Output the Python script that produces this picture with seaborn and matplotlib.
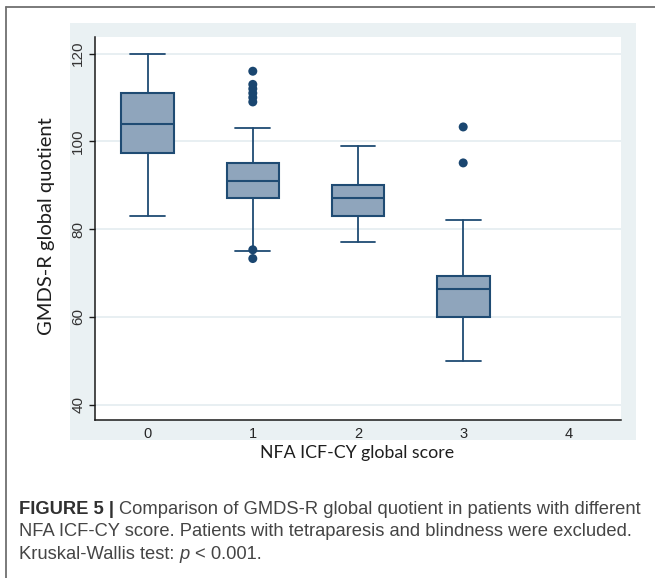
import matplotlib
matplotlib.use("Agg")
import matplotlib.pyplot as plt
import seaborn as sns
import pandas as pd
from matplotlib.patches import Rectangle
from matplotlib.lines import Line2D

# ---------------- data ----------------
categories = ["0", "1", "2", "3", "4"]
box_groups = [0, 1, 2, 3]
whisker_low = [83.0, 75.0, 77.0, 50.0]
q1 = [97.3, 87.2, 83.0, 60.0]
median = [104.0, 91.0, 87.0, 66.4]
q3 = [111.1, 95.1, 90.0, 69.3]
whisker_high = [120.0, 103.0, 99.0, 82.0]
outlier_group = [1, 1, 1, 1, 1, 1, 1, 1, 3, 3]
outlier_value = [116.0, 113.0, 112.0, 111.0, 110.0, 109.0, 75.3, 73.3, 103.3, 95.1]
y_ticks = [40, 60, 80, 100, 120]

x_title = "NFA ICF-CY global score"
y_title = "GMDS-R global quotient"

# ---------------- style ----------------
sns.set_style("white")
plt.rcParams["font.family"] = ["Liberation Sans", "DejaVu Sans"]

W, H = 655, 578
fig = plt.figure(figsize=(W / 100, H / 100), dpi=100)
fig.patch.set_facecolor("white")

def fx(x):
    return x / W

def fy(y):
    return 1 - y / H

# graph region (light bluish)
fig.patches.append(Rectangle((fx(70), fy(440)), fx(636) - fx(70), fy(23) - fy(440),
                             transform=fig.transFigure, facecolor="#EAF1F3",
                             edgecolor="none", zorder=0))
# outer frame (top and left)
fig.lines.append(Line2D([fx(6), fx(6)], [fy(7), -0.01], transform=fig.transFigure,
                        color="#707070", lw=1.3))
fig.lines.append(Line2D([fx(6), 1.01], [fy(7), fy(7)], transform=fig.transFigure,
                        color="#707070", lw=1.3))

ax = fig.add_axes([fx(95), fy(420), fx(621) - fx(95), fy(37) - fy(420)])
ax.set_facecolor("white")
ax.set_zorder(1)

line_c = "#1F4B73"
fill_c = "#8FA5BC"

stats = [dict(med=m, q1=a, q3=b, whislo=lo, whishi=hi, fliers=[], label=categories[g])
         for g, lo, a, m, b, hi in zip(box_groups, whisker_low, q1, median, q3, whisker_high)]
ax.bxp(stats, positions=box_groups, widths=0.5, capwidths=0.33, patch_artist=True,
       showfliers=False,
       boxprops=dict(facecolor=fill_c, edgecolor=line_c, linewidth=1.5),
       medianprops=dict(color=line_c, linewidth=1.5),
       whiskerprops=dict(color=line_c, linewidth=1.3),
       capprops=dict(color=line_c, linewidth=1.3))

out_df = pd.DataFrame({"group": outlier_group, "value": outlier_value})
sns.scatterplot(data=out_df, x="group", y="value", ax=ax, color="#1A4670",
                s=42, edgecolor="none", zorder=5, legend=False)

ax.set_xlim(-0.5, 4.5)
ax.set_ylim(36.5, 123.8)
ax.set_xticks(range(len(categories)))
ax.set_xticklabels(categories)
ax.set_yticks(y_ticks)
ax.set_yticklabels([str(t) for t in y_ticks])
ax.set_xlabel("")
ax.set_ylabel("")

ax.set_axisbelow(True)
ax.yaxis.grid(True, color="#E6EEF1", linewidth=1.3)
ax.xaxis.grid(False)

for s in ["top", "right"]:
    ax.spines[s].set_visible(False)
for s in ["left", "bottom"]:
    ax.spines[s].set_color("#1a1a1a")
    ax.spines[s].set_linewidth(1.1)

ax.tick_params(axis="y", left=True, length=4, width=1, color="#1a1a1a",
               labelsize=11, labelcolor="#333333", pad=3)
ax.tick_params(axis="x", bottom=False, length=0, labelsize=10.5,
               labelcolor="#262626", pad=5)
for t in ax.get_xticklabels():
    t.set_fontweight("bold") if False else None
for t in ax.get_yticklabels():
    t.set_rotation(90)
    t.set_va("center")

# axis titles
fig.text(fx(47), fy(226), y_title, rotation=90, ha="center", va="center",
         fontsize=14.5, color="#1e1e1e", family=["Lato", "DejaVu Sans"])
fig.text(fx(357.5), fy(453), x_title, ha="center", va="center",
         fontsize=12.8, color="#1e1e1e", family=["Lato", "DejaVu Sans"])

# caption
fig.canvas.draw()
renderer = fig.canvas.get_renderer()
cap_fs = 13.2
space_px = 0.278 * cap_fs * 100 / 72

def place_pieces(pieces, x0, base_y):
    x = x0
    for txt, kw in pieces:
        t = fig.text(fx(x), fy(base_y), txt, ha="left", va="baseline",
                     fontsize=cap_fs, **kw)
        bb = t.get_window_extent(renderer=renderer)
        x = x + bb.width + space_px

normal = dict(color="#454545")
bold = dict(color="#303030", weight="bold")
ital = dict(color="#454545", style="italic")

place_pieces([("FIGURE 5 |", bold),
              ("Comparison of GMDS-R global quotient in patients with different", normal)],
             19, 514)
place_pieces([("NFA ICF-CY score. Patients with tetraparesis and blindness were excluded.", normal)],
             19, 536.5)
place_pieces([("Kruskal-Wallis test:", normal), ("p", ital), ("< 0.001.", normal)],
             19, 559)

fig.savefig("out.png", dpi=100)
